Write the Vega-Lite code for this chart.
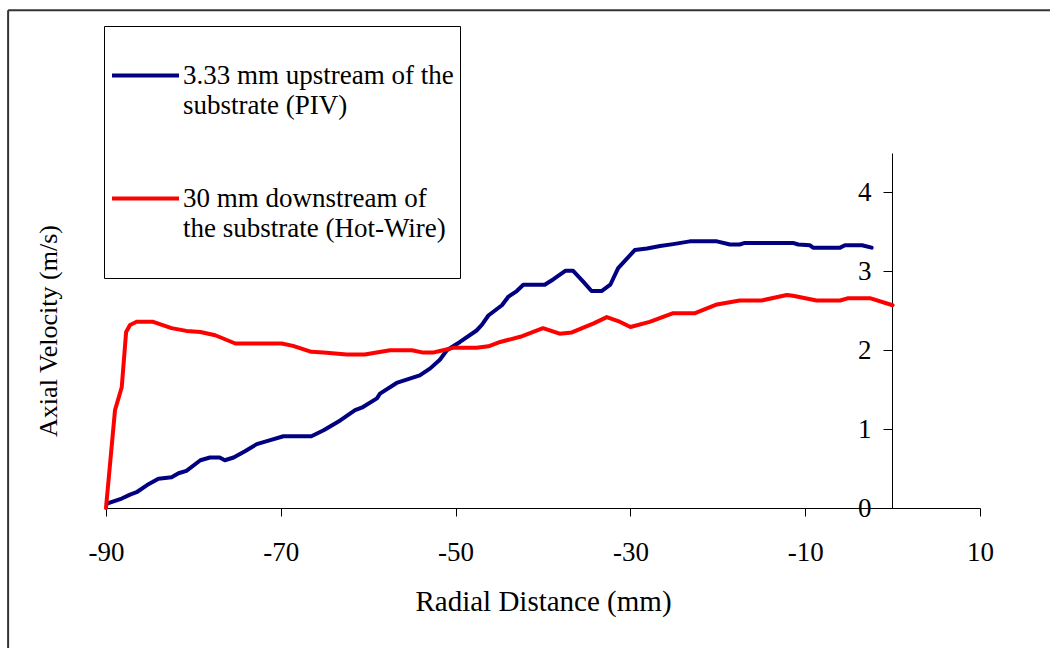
{
  "$schema": "https://vega.github.io/schema/vega-lite/v6.json",
  "width": 874,
  "height": 355,
  "autosize": {"type": "none"},
  "padding": {"left": 106, "top": 153, "right": 70, "bottom": 140},
  "background": "white",
  "config": {
    "view": {"stroke": null},
    "font": "Liberation Serif",
    "axis": {"grid": false, "domainColor": "#000", "tickColor": "#000", "labelColor": "#000", "titleColor": "#000", "labelFont": "Liberation Serif", "titleFont": "Liberation Serif", "titleFontWeight": "normal", "labelFontSize": 27, "titleFontSize": 27, "labelFlush": false}
  },
  "datasets": {
    "curves": [
      {"series": "PIV", "x": -89.9, "v": 0.055},
      {"series": "PIV", "x": -88.2, "v": 0.12},
      {"series": "PIV", "x": -87.25, "v": 0.17},
      {"series": "PIV", "x": -86.5, "v": 0.2},
      {"series": "PIV", "x": -85.3, "v": 0.29},
      {"series": "PIV", "x": -84.0, "v": 0.37},
      {"series": "PIV", "x": -82.5, "v": 0.39},
      {"series": "PIV", "x": -81.7, "v": 0.44},
      {"series": "PIV", "x": -80.8, "v": 0.47},
      {"series": "PIV", "x": -79.2, "v": 0.605},
      {"series": "PIV", "x": -78.1, "v": 0.64},
      {"series": "PIV", "x": -77.0, "v": 0.64},
      {"series": "PIV", "x": -76.4, "v": 0.605},
      {"series": "PIV", "x": -75.4, "v": 0.64},
      {"series": "PIV", "x": -74.1, "v": 0.72},
      {"series": "PIV", "x": -72.75, "v": 0.81},
      {"series": "PIV", "x": -71.2, "v": 0.86},
      {"series": "PIV", "x": -69.7, "v": 0.91},
      {"series": "PIV", "x": -66.5, "v": 0.91},
      {"series": "PIV", "x": -65.1, "v": 0.985},
      {"series": "PIV", "x": -63.2, "v": 1.11},
      {"series": "PIV", "x": -61.5, "v": 1.24},
      {"series": "PIV", "x": -60.6, "v": 1.28},
      {"series": "PIV", "x": -59.0, "v": 1.39},
      {"series": "PIV", "x": -58.65, "v": 1.45},
      {"series": "PIV", "x": -56.75, "v": 1.585},
      {"series": "PIV", "x": -54.1, "v": 1.68},
      {"series": "PIV", "x": -52.9, "v": 1.77},
      {"series": "PIV", "x": -51.8, "v": 1.88},
      {"series": "PIV", "x": -51.0, "v": 2.0},
      {"series": "PIV", "x": -49.5, "v": 2.105},
      {"series": "PIV", "x": -47.6, "v": 2.25},
      {"series": "PIV", "x": -47.0, "v": 2.32},
      {"series": "PIV", "x": -46.25, "v": 2.44},
      {"series": "PIV", "x": -44.7, "v": 2.57},
      {"series": "PIV", "x": -43.95, "v": 2.68},
      {"series": "PIV", "x": -43.0, "v": 2.75},
      {"series": "PIV", "x": -42.25, "v": 2.83},
      {"series": "PIV", "x": -39.8, "v": 2.83},
      {"series": "PIV", "x": -38.8, "v": 2.9},
      {"series": "PIV", "x": -37.45, "v": 3.006},
      {"series": "PIV", "x": -36.55, "v": 3.006},
      {"series": "PIV", "x": -35.4, "v": 2.87},
      {"series": "PIV", "x": -34.45, "v": 2.75},
      {"series": "PIV", "x": -33.3, "v": 2.75},
      {"series": "PIV", "x": -32.3, "v": 2.83},
      {"series": "PIV", "x": -31.4, "v": 3.04},
      {"series": "PIV", "x": -30.4, "v": 3.16},
      {"series": "PIV", "x": -29.5, "v": 3.27},
      {"series": "PIV", "x": -28.1, "v": 3.29},
      {"series": "PIV", "x": -26.6, "v": 3.32},
      {"series": "PIV", "x": -25.1, "v": 3.345},
      {"series": "PIV", "x": -23.2, "v": 3.38},
      {"series": "PIV", "x": -20.1, "v": 3.38},
      {"series": "PIV", "x": -18.6, "v": 3.34},
      {"series": "PIV", "x": -17.5, "v": 3.34},
      {"series": "PIV", "x": -16.9, "v": 3.36},
      {"series": "PIV", "x": -11.4, "v": 3.36},
      {"series": "PIV", "x": -10.8, "v": 3.34},
      {"series": "PIV", "x": -9.45, "v": 3.33},
      {"series": "PIV", "x": -9.1, "v": 3.3},
      {"series": "PIV", "x": -6.0, "v": 3.3},
      {"series": "PIV", "x": -5.45, "v": 3.33},
      {"series": "PIV", "x": -3.5, "v": 3.33},
      {"series": "PIV", "x": -2.4, "v": 3.3},
      {"series": "Hot-Wire", "x": -90.0, "v": 0.0},
      {"series": "Hot-Wire", "x": -88.97, "v": 1.24},
      {"series": "Hot-Wire", "x": -88.2, "v": 1.53},
      {"series": "Hot-Wire", "x": -87.7, "v": 2.23},
      {"series": "Hot-Wire", "x": -87.25, "v": 2.32},
      {"series": "Hot-Wire", "x": -86.5, "v": 2.36},
      {"series": "Hot-Wire", "x": -84.6, "v": 2.36},
      {"series": "Hot-Wire", "x": -82.5, "v": 2.28},
      {"series": "Hot-Wire", "x": -80.8, "v": 2.245},
      {"series": "Hot-Wire", "x": -79.2, "v": 2.23},
      {"series": "Hot-Wire", "x": -77.5, "v": 2.19},
      {"series": "Hot-Wire", "x": -75.2, "v": 2.085},
      {"series": "Hot-Wire", "x": -69.9, "v": 2.085},
      {"series": "Hot-Wire", "x": -68.6, "v": 2.055},
      {"series": "Hot-Wire", "x": -66.5, "v": 1.98},
      {"series": "Hot-Wire", "x": -65.1, "v": 1.97},
      {"series": "Hot-Wire", "x": -62.45, "v": 1.945},
      {"series": "Hot-Wire", "x": -60.4, "v": 1.945},
      {"series": "Hot-Wire", "x": -57.5, "v": 2.0},
      {"series": "Hot-Wire", "x": -55.0, "v": 2.0},
      {"series": "Hot-Wire", "x": -53.7, "v": 1.97},
      {"series": "Hot-Wire", "x": -52.6, "v": 1.97},
      {"series": "Hot-Wire", "x": -51.8, "v": 1.99},
      {"series": "Hot-Wire", "x": -50.3, "v": 2.03},
      {"series": "Hot-Wire", "x": -47.6, "v": 2.03},
      {"series": "Hot-Wire", "x": -46.25, "v": 2.05},
      {"series": "Hot-Wire", "x": -44.9, "v": 2.105},
      {"series": "Hot-Wire", "x": -42.6, "v": 2.17},
      {"series": "Hot-Wire", "x": -40.0, "v": 2.28},
      {"series": "Hot-Wire", "x": -38.1, "v": 2.21},
      {"series": "Hot-Wire", "x": -36.7, "v": 2.225},
      {"series": "Hot-Wire", "x": -34.2, "v": 2.34},
      {"series": "Hot-Wire", "x": -32.7, "v": 2.42},
      {"series": "Hot-Wire", "x": -31.4, "v": 2.37},
      {"series": "Hot-Wire", "x": -30.0, "v": 2.295},
      {"series": "Hot-Wire", "x": -27.8, "v": 2.36},
      {"series": "Hot-Wire", "x": -25.1, "v": 2.47},
      {"series": "Hot-Wire", "x": -22.6, "v": 2.47},
      {"series": "Hot-Wire", "x": -20.1, "v": 2.58},
      {"series": "Hot-Wire", "x": -17.5, "v": 2.63},
      {"series": "Hot-Wire", "x": -15.0, "v": 2.63},
      {"series": "Hot-Wire", "x": -12.1, "v": 2.7},
      {"series": "Hot-Wire", "x": -11.4, "v": 2.69},
      {"series": "Hot-Wire", "x": -8.7, "v": 2.63},
      {"series": "Hot-Wire", "x": -6.0, "v": 2.63},
      {"series": "Hot-Wire", "x": -5.07, "v": 2.66},
      {"series": "Hot-Wire", "x": -2.6, "v": 2.66},
      {"series": "Hot-Wire", "x": 0.0, "v": 2.57}
    ]
  },
  "layer": [
    {
      "data": {"values": [{}]},
      "mark": {"type": "rule", "color": "#333", "strokeWidth": 2, "clip": false},
      "encoding": {
        "x": {"datum": -101.2, "type": "quantitative", "scale": {"domain": [-90, 10], "zero": false, "nice": false}},
        "y": {"datum": 6.31, "type": "quantitative", "scale": {"domain": [0, 4.5], "zero": false, "nice": false}},
        "y2": {"datum": -1.8}
      }
    },
    {
      "data": {"values": [{}]},
      "mark": {"type": "rule", "color": "#333", "strokeWidth": 2, "clip": false},
      "encoding": {
        "x": {"datum": -101.2, "type": "quantitative"},
        "x2": {"datum": 18.2},
        "y": {"datum": 6.31, "type": "quantitative"}
      }
    },
    {
      "data": {"name": "curves"},
      "mark": {"type": "line", "strokeWidth": 4, "strokeJoin": "round", "strokeCap": "round", "interpolate": "linear"},
      "encoding": {
        "x": {
          "field": "x", "type": "quantitative",
          "scale": {"domain": [-90, 10], "zero": false, "nice": false},
          "axis": {
            "title": "Radial Distance (mm)",
            "values": [-90, -70, -50, -30, -10, 10],
            "labelExpr": "'' + datum.value",
            "labelFlush": false,
            "tickSize": 8,
            "labelPadding": 23,
            "titleFontSize": 29,
            "titleBaseline": "alphabetic",
            "titleY": 102
          }
        },
        "y": {
          "field": "v", "type": "quantitative",
          "scale": {"domain": [0, 4.5], "zero": false, "nice": false},
          "axis": {
            "title": "Axial Velocity (m/s)",
            "orient": "left",
            "offset": -786,
            "values": [0, 1, 2, 3, 4],
            "labelExpr": "'' + datum.value",
            "labelFlush": false,
            "tickSize": 9,
            "labelPadding": 12,
            "titleFontSize": 26,
            "titleX": -836,
            "titleY": 177.5,
            "titleAngle": 270,
            "titleAlign": "center",
            "titleBaseline": "alphabetic"
          }
        },
        "color": {
          "field": "series", "type": "nominal",
          "scale": {"domain": ["PIV", "Hot-Wire"], "range": ["#000080", "#FF0000"]},
          "legend": {
            "orient": "none",
            "legendX": -2,
            "legendY": -127,
            "direction": "vertical",
            "title": " ",
            "titleOrient": "top",
            "titleFontSize": 4,
            "titlePadding": 4,
            "strokeColor": "#000",
            "fillColor": "white",
            "padding": 6,
            "rowPadding": 14,
            "symbolType": "stroke",
            "symbolSize": 4489,
            "symbolStrokeWidth": 4,
            "labelOffset": 2,
            "labelFont": "Liberation Serif",
            "labelFontSize": 27,
            "labelColor": "#000",
            "labelBaseline": "middle",
            "labelLimit": 1000,
            "labelExpr": "datum.value == 'PIV' ? ['3.33 mm upstream of the', 'substrate (PIV)', ''] : ['30 mm downstream of', 'the substrate (Hot-Wire)', '']",
            "encode": {"labels": {"update": {"lineHeight": {"value": 30}}}}
          }
        }
      }
    }
  ]
}
